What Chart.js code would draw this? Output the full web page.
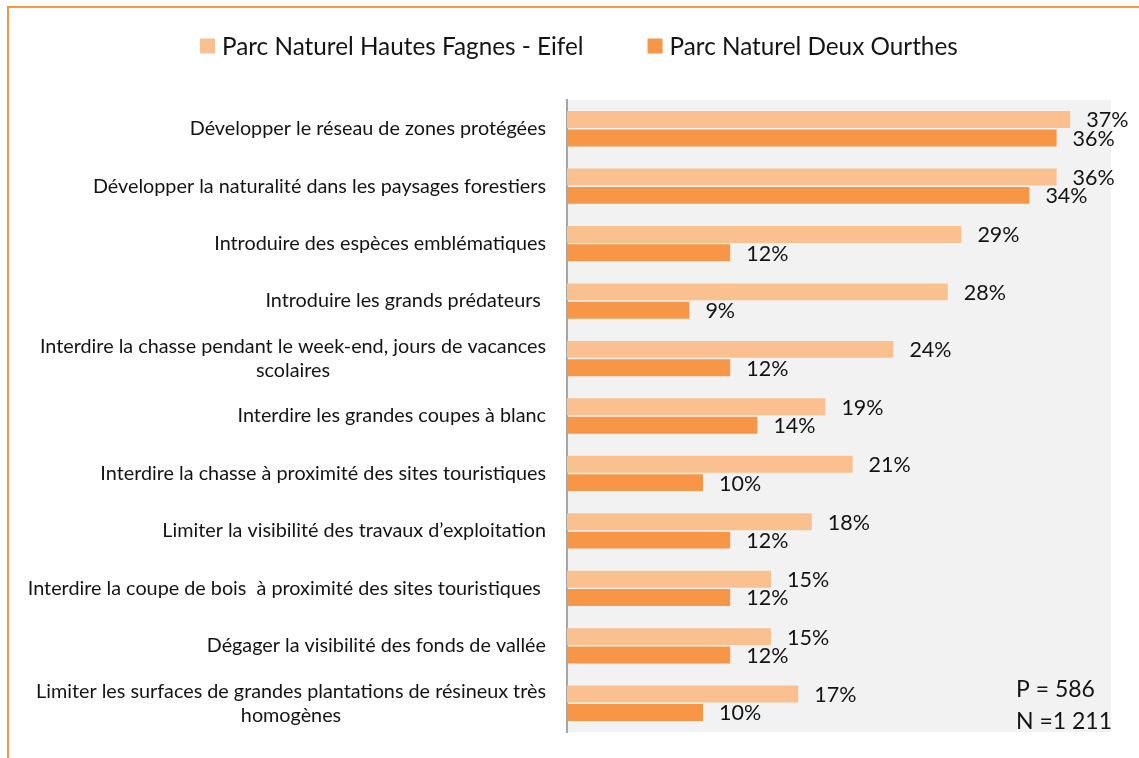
<!DOCTYPE html>
<html>
<head>
<meta charset="utf-8">
<script src="https://cdn.jsdelivr.net/npm/chart.js@4.4.1/dist/chart.umd.min.js"></script>
<style>
  html, body { margin: 0; padding: 0; background: #fff; }
  #wrap { width: 1139px; height: 758px; position: relative; }
</style>
</head>
<body>
<div id="wrap"><canvas id="c" width="1139" height="758"></canvas></div>
<script>
// Measures, in display order (top to bottom)
const categories = [
  'Développer le réseau de zones protégées',
  'Développer la naturalité dans les paysages forestiers',
  'Introduire des espèces emblématiques',
  'Introduire les grands prédateurs ',
  ['Interdire la chasse pendant le week-end, jours de vacances', 'scolaires'],
  'Interdire les grandes coupes à blanc',
  'Interdire la chasse à proximité des sites touristiques',
  'Limiter la visibilité des travaux d’exploitation',
  'Interdire la coupe de bois  à proximité des sites touristiques ',
  'Dégager la visibilité des fonds de vallée',
  ['Limiter les surfaces de grandes plantations de résineux très', 'homogènes']
];
const seriesNames = ['Parc Naturel Hautes Fagnes - Eifel', 'Parc Naturel Deux Ourthes'];
const hautesFagnes = [37, 36, 29, 28, 24, 19, 21, 18, 15, 15, 17];
const deuxOurthes  = [36, 34, 12, 9, 12, 14, 10, 12, 12, 12, 10];
const sampleNotes = ['P = 586', 'N =1 211'];
const axisMax = 40;

const FONT = 'Lato, "Open Sans", sans-serif';
const INK = '#141414';

// Page frame and grey plot background
const frame = {
  id: 'frame',
  beforeDraw(chart) {
    const { ctx, chartArea: a } = chart;
    ctx.save();
    ctx.fillStyle = '#ffffff';
    ctx.fillRect(0, 0, chart.width, chart.height);
    ctx.fillStyle = '#f2f2f2';
    ctx.fillRect(a.left, a.top, a.right - a.left, a.bottom - a.top);
    ctx.strokeStyle = '#f79646';
    ctx.lineWidth = 2;
    ctx.beginPath();
    ctx.moveTo(8, chart.height);
    ctx.lineTo(8, 7);
    ctx.lineTo(chart.width, 7);
    ctx.stroke();
    ctx.restore();
  }
};

// Category names: block right-aligned to the axis, lines centred within the block
const catLabels = {
  id: 'catLabels',
  afterDraw(chart) {
    const ys = chart.scales.y, ctx = chart.ctx;
    ctx.save();
    ctx.font = '19.8px ' + FONT;
    ctx.fillStyle = INK;
    ctx.textBaseline = 'middle';
    ctx.textAlign = 'center';
    const right = chart.chartArea.left - 21, lh = 24;
    chart.data.labels.forEach((lab, i) => {
      const lines = Array.isArray(lab) ? lab : [lab];
      const w = Math.max(...lines.map(l => ctx.measureText(l).width));
      const cx = right - w / 2;
      const yc = ys.getPixelForValue(i);
      lines.forEach((l, k) => ctx.fillText(l, cx, yc + (k - (lines.length - 1) / 2) * lh));
    });
    ctx.restore();
  }
};

// Percent labels at the end of each bar
const valueLabels = {
  id: 'valueLabels',
  afterDatasetsDraw(chart) {
    const ctx = chart.ctx;
    ctx.save();
    ctx.font = '21.5px ' + FONT;
    ctx.fillStyle = INK;
    ctx.textBaseline = 'middle';
    ctx.textAlign = 'left';
    chart.data.datasets.forEach((ds, d) => {
      chart.getDatasetMeta(d).data.forEach((bar, i) => {
        ctx.fillText(ds.data[i] + '%', bar.x + 16, bar.y + 1);
      });
    });
    ctx.restore();
  }
};

// Legend row across the top
const legendRow = {
  id: 'legendRow',
  afterDraw(chart) {
    const ctx = chart.ctx;
    ctx.save();
    ctx.font = '24.3px ' + FONT;
    ctx.textBaseline = 'middle';
    const box = 15, gapText = 7, gapItem = 64, cy = 46, start = 200;
    let x = start;
    chart.data.datasets.forEach(ds => {
      const w = ctx.measureText(ds.label).width;
      ctx.fillStyle = ds.backgroundColor;
      ctx.fillRect(x, cy - box / 2, box, box);
      ctx.fillStyle = INK;
      ctx.fillText(ds.label, x + box + gapText, cy + 1);
      x += box + gapText + w + gapItem;
    });
    ctx.restore();
  }
};

// Sample sizes, bottom right of the plot
const notes = {
  id: 'notes',
  afterDraw(chart) {
    const ctx = chart.ctx;
    ctx.save();
    ctx.font = '23px ' + FONT;
    ctx.fillStyle = INK;
    ctx.textBaseline = 'middle';
    ctx.fillText(sampleNotes[0], 1016, 690);
    ctx.fillText(sampleNotes[1], 1016, 722);
    ctx.restore();
  }
};

new Chart(document.getElementById('c'), {
  type: 'bar',
  data: {
    labels: categories,
    datasets: [
      { label: seriesNames[0], data: hautesFagnes, backgroundColor: '#fac090' },
      { label: seriesNames[1], data: deuxOurthes, backgroundColor: '#f79646' }
    ]
  },
  options: {
    indexAxis: 'y',
    responsive: false,
    animation: false,
    devicePixelRatio: 1,
    layout: { padding: { left: 0, top: 100, right: 28, bottom: 26 } },
    datasets: { bar: { categoryPercentage: 0.64, barPercentage: 0.92, borderWidth: 0 } },
    scales: {
      x: { min: 0, max: axisMax, display: false },
      y: {
        ticks: { display: false },
        grid: { display: false },
        border: { display: true, color: '#a6a6a6', width: 2 },
        afterFit(scale) { scale.width = 567; }
      }
    },
    plugins: {
      legend: { display: false },
      tooltip: { enabled: false }
    }
  },
  plugins: [frame, catLabels, valueLabels, legendRow, notes]
});
</script>
</body>
</html>
